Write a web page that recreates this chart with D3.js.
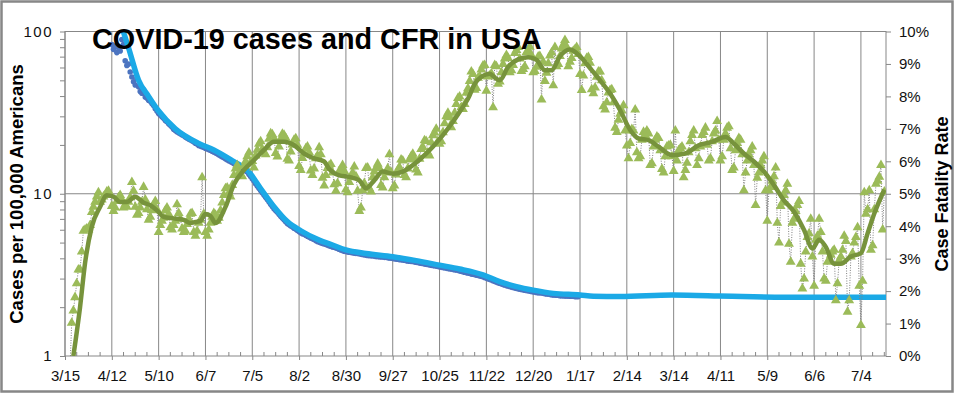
<!DOCTYPE html>
<html>
<head>
<meta charset="utf-8">
<script src="https://cdn.jsdelivr.net/npm/d3@7"></script>
<style>
  body { margin: 0; background: #fff; }
  svg { font-family: "Liberation Sans", Arial, sans-serif; }
</style>
</head>
<body>
<script>
// first day of the daily series (a Sunday)
const firstDay = "2020-03-15";

// x-axis tick dates (every 4 weeks)
const xTickDates = ["2020-03-15", "2020-04-12", "2020-05-10", "2020-06-07", "2020-07-05",
  "2020-08-02", "2020-08-30", "2020-09-27", "2020-10-25", "2020-11-22", "2020-12-20",
  "2021-01-17", "2021-02-14", "2021-03-14", "2021-04-11", "2021-05-09", "2021-06-06",
  "2021-07-04"];

// daily new cases per 100,000 (one row per week, Sun..Sat)
const casesDaily = [
  0.3, 0.4, 0.6, 0.85, 1.6, 1.9, 2.3,
  2.8, 3.4, 3.4, 4.4, 5.9, 6.0, 6.1,
  6.0, 6.4, 7.7, 8.3, 8.9, 9.6, 10.2,
  8.9, 9.2, 9.6, 9.8, 10.3, 10.4, 9.8,
  8.4, 7.8, 8.2, 9.0, 9.5, 9.8, 9.2,
  8.2, 8.6, 8.3, 8.9, 9.5, 11.8, 10.4,
  8.3, 7.4, 7.6, 8.2, 8.9, 11.0, 9.2,
  8.0, 6.9, 7.2, 7.9, 8.6, 9.0, 8.0,
  5.8, 6.4, 6.8, 7.1, 7.9, 8.2, 7.5,
  6.2, 6.0, 6.4, 6.8, 8.6, 7.6, 7.0,
  6.1, 5.8, 5.9, 6.5, 7.0, 7.5, 7.6,
  5.8, 5.5, 5.9, 6.6, 6.9, 12.6, 7.5,
  5.8, 5.5, 6.0, 6.6, 7.2, 7.6, 7.4,
  6.8, 7.1, 7.9, 8.8, 9.8, 10.8, 10.9,
  10.1, 9.6, 11.3, 13.0, 14.3, 15.0, 13.5,
  13.2, 12.8, 14.8, 15.8, 17.0, 17.9, 15.6,
  15.9, 14.5, 17.2, 18.6, 20.3, 21.0, 18.8,
  18.0, 17.5, 19.3, 21.8, 23.5, 23.2, 22.0,
  17.8, 16.9, 19.5, 21.8, 23.4, 23.0, 22.1,
  16.4, 16.0, 18.2, 20.1, 21.5, 21.9, 20.0,
  14.8, 14.0, 16.6, 17.8, 19.0, 19.5, 18.0,
  13.9, 13.0, 14.3, 16.5, 17.2, 19.3, 17.5,
  12.5, 11.2, 13.0, 14.4, 14.9, 15.2, 13.5,
  11.4, 10.4, 11.6, 13.8, 13.9, 15.0, 13.8,
  10.6, 10.2, 11.8, 12.6, 13.5, 14.7, 12.8,
  10.4, 7.8, 8.2, 10.5, 11.6, 14.4, 14.5,
  10.8, 10.3, 12.6, 13.7, 14.4, 15.3, 14.4,
  11.3, 10.9, 12.6, 13.5, 14.3, 17.5, 13.6,
  10.8, 11.2, 13.1, 14.0, 14.6, 16.2, 16.0,
  13.0, 12.6, 14.3, 16.2, 17.0, 17.6, 16.4,
  14.1, 13.5, 16.4, 18.8, 19.4, 21.3, 21.1,
  17.9, 17.2, 20.7, 22.9, 23.8, 25.1, 21.0,
  20.3, 21.0, 23.9, 27.1, 30.0, 31.5, 29.6,
  25.6, 28.0, 31.5, 35.7, 38.8, 39.6, 34.1,
  33.2, 35.6, 41.8, 44.6, 49.5, 56.5, 54.5,
  43.6, 44.8, 51.8, 53.1, 58.2, 61.5, 62.0,
  43.1, 52.7, 53.4, 55.2, 34.0, 62.1, 61.0,
  47.5, 49.0, 56.0, 63.0, 68.0, 71.5, 68.5,
  56.0, 57.5, 62.0, 73.5, 76.8, 80.0, 68.0,
  57.0, 58.5, 61.0, 74.5, 76.8, 80.5, 71.2,
  56.0, 57.0, 60.5, 70.0, 70.5, 38.0, 65.0,
  49.5, 55.5, 63.5, 71.0, 74.0, 46.5, 80.0,
  61.0, 63.0, 70.5, 78.5, 83.0, 88.5, 80.5,
  61.0, 65.0, 68.5, 76.0, 77.5, 80.0, 72.5,
  54.5, 43.5, 53.5, 63.5, 68.5, 69.5, 64.0,
  44.0, 41.5, 45.0, 52.5, 56.5, 56.5, 50.0,
  34.5, 33.0, 36.5, 42.0, 43.5, 44.0, 36.5,
  25.5, 24.0, 28.5, 31.0, 32.5, 35.0, 24.5,
  19.8, 16.5, 20.5, 25.0, 24.5, 33.0, 18.0,
  16.5, 17.0, 21.5, 24.0, 23.0, 24.5, 23.5,
  15.0, 15.4, 19.5, 21.5, 22.5, 22.0, 18.5,
  14.2, 13.5, 17.0, 19.5, 19.8, 20.0, 17.0,
  13.8, 24.5, 16.0, 18.5, 19.0, 19.5, 12.6,
  14.0, 15.5, 18.0, 21.0, 23.0, 24.5, 19.0,
  15.0, 16.5, 19.5, 23.0, 24.0, 25.5, 20.0,
  16.0, 16.5, 21.0, 23.5, 24.5, 28.0, 21.5,
  16.0, 17.0, 21.5, 23.5, 25.5, 26.0, 19.0,
  14.0, 14.5, 18.5, 20.5, 22.0, 21.5, 17.5,
  10.5, 13.5, 16.0, 17.5, 18.5, 19.5, 15.0,
  8.5, 12.5, 13.5, 15.0, 16.0, 17.0, 10.5,
  6.8, 10.5, 11.0, 12.0, 12.8, 14.5, 6.6,
  5.0, 8.4, 8.8, 9.8, 10.5, 11.5, 4.9,
  3.8, 6.6, 7.0, 7.8, 8.5, 9.0, 3.7,
  2.6, 3.0, 4.4, 5.4, 5.7, 7.0, 4.1,
  2.7, 5.2, 5.5, 7.0, 5.8, 4.4, 3.0,
  2.9, 3.8, 3.9, 4.2, 4.4, 4.5, 2.2,
  2.8, 3.9, 4.1, 4.5, 5.5, 5.1, 1.87,
  2.2, 4.1, 4.3, 5.0, 5.4, 6.2, 2.7,
  1.55, 2.9, 10.2, 7.5, 8.0, 10.5, 4.5,
  4.8, 8.0, 11.5, 12.0, 12.7, 15.0, 6.0,
  10.3
];

// 7-day average of cases (day index from firstDay, value per 100,000)
const avgDay = [5, 9, 12, 16, 21, 25, 29, 33, 37, 42, 47, 51, 55, 59, 65, 71, 75, 78, 81, 84,
  87, 90, 96, 101, 107, 113, 119, 125, 131, 137, 143, 149, 155, 158, 161, 164, 170, 176, 180,
  185, 190, 196, 202, 208, 214, 220, 226, 232, 238, 241, 245, 249, 254, 257, 260, 265, 271,
  277, 282, 287, 291, 296, 302, 308, 315, 320, 326, 332, 338, 343, 349, 355, 363, 371, 379,
  387, 395, 400, 406, 412, 418, 424, 430, 436, 442, 447, 451, 455, 460, 464, 470, 476, 480,
  484, 490];
const avgCases = [1.0, 2.0, 3.74, 6.25, 8.3, 9.8, 9.6, 8.9, 8.9, 9.6, 8.8, 8.5, 7.9, 7.2, 7.05,
  6.9, 6.6, 6.7, 6.8, 7.5, 7.3, 6.6, 8.3, 11.4, 14.0, 16.1, 18.6, 20.9, 20.9, 19.9, 17.7, 16.5,
  15.8, 14.2, 13.4, 13.0, 12.7, 12.1, 10.8, 12.1, 13.7, 13.3, 13.7, 15.0, 16.9, 19.5, 23.0,
  27.8, 34.4, 38.5, 47.5, 52.6, 55.0, 52.0, 50.0, 60.5, 67.3, 69.5, 66.9, 57.8, 57.8, 70.3,
  77.4, 70.3, 57.8, 50.0, 41.5, 32.7, 24.7, 21.9, 21.4, 19.5, 17.3, 17.7, 19.9, 20.9, 22.4,
  20.4, 17.7, 15.8, 13.7, 11.3, 9.1, 7.74, 5.97, 4.6, 5.2, 4.7, 3.7, 3.7, 4.1, 4.3, 5.7,
  7.55, 10.6];

// daily case fatality rate, starting at day 28 (4/12/2020)
const cfrFirst = 28;
const cfrDaily = [
  0.096, 0.0945, 0.0955, 0.0935, 0.095, 0.094, 0.0975,
  0.096, 0.091, 0.0895, 0.090, 0.0875, 0.086, 0.0845,
  0.0835, 0.0855, 0.083, 0.0815, 0.081, 0.082, 0.0798,
  0.0795, 0.0788, 0.0785, 0.0778, 0.0772, 0.0762, 0.0755,
  0.0747, 0.0743, 0.0737, 0.0733, 0.0726, 0.0722, 0.0716,
  0.0711, 0.0706, 0.0699, 0.0695, 0.0691, 0.0688, 0.0685,
  0.0682, 0.0679, 0.0675, 0.0672, 0.0669, 0.0666, 0.0663,
  0.0660, 0.0656, 0.0653, 0.0649, 0.0647, 0.0645, 0.0643,
  0.0640, 0.0638, 0.0636, 0.0634, 0.0631, 0.0629, 0.0626,
  0.0623, 0.0620, 0.0617, 0.0614, 0.0611, 0.0608, 0.0605,
  0.0602, 0.0599, 0.0596, 0.0593, 0.0590, 0.0587, 0.0584,
  0.0580, 0.0577, 0.0574, 0.0571, 0.0567, 0.0560, 0.0553,
  0.0546, 0.0539, 0.0531, 0.0524, 0.0517, 0.0510, 0.0503,
  0.0496, 0.0489, 0.0482, 0.0475, 0.0468, 0.0461, 0.0454,
  0.0448, 0.0443, 0.0437, 0.0431, 0.0425, 0.0420, 0.0414,
  0.0408, 0.0405, 0.0401, 0.0398, 0.0394, 0.0391, 0.0387,
  0.0384, 0.0380, 0.0377, 0.0375, 0.0372, 0.0369, 0.0367,
  0.0364, 0.0361, 0.0359, 0.0356, 0.0353, 0.0351, 0.0349,
  0.0347, 0.0345, 0.0344, 0.0342, 0.0340, 0.0338, 0.0336,
  0.0335, 0.0333, 0.0331, 0.0329, 0.0327, 0.0325, 0.0323,
  0.0322, 0.0321, 0.0320, 0.0319, 0.0318, 0.0317, 0.0316,
  0.0316, 0.0315, 0.0314, 0.0313, 0.0312, 0.0311, 0.0310,
  0.0310, 0.0309, 0.0309, 0.0308, 0.0307, 0.0307, 0.0306,
  0.0305, 0.0305, 0.0304, 0.0304, 0.0303, 0.0302, 0.0302,
  0.0301, 0.0300, 0.0299, 0.0298, 0.0297, 0.0297, 0.0296,
  0.0295, 0.0294, 0.0293, 0.0292, 0.0291, 0.0291, 0.0290,
  0.0289, 0.0288, 0.0287, 0.0286, 0.0285, 0.0284, 0.0283,
  0.0282, 0.0281, 0.0280, 0.0279, 0.0278, 0.0277, 0.0276,
  0.0275, 0.0274, 0.0273, 0.0272, 0.0271, 0.0270, 0.0269,
  0.0268, 0.0267, 0.0266, 0.0265, 0.0264, 0.0262, 0.0261,
  0.0260, 0.0258, 0.0257, 0.0256, 0.0255, 0.0253, 0.0252,
  0.0251, 0.0249, 0.0248, 0.0247, 0.0246, 0.0244, 0.0242,
  0.0240, 0.0238, 0.0236, 0.0234, 0.0232, 0.0230, 0.0228,
  0.0226, 0.0224, 0.0222, 0.0220, 0.0219, 0.0217, 0.0216,
  0.0214, 0.0213, 0.0211, 0.0210, 0.0208, 0.0207, 0.0206,
  0.0205, 0.0204, 0.0203, 0.0202, 0.0201, 0.0200, 0.0199,
  0.0198, 0.0197, 0.0196, 0.0195, 0.0195, 0.0194, 0.0193,
  0.0192, 0.0191, 0.0191, 0.0190, 0.0189, 0.0188, 0.0188,
  0.0187, 0.0187, 0.0186, 0.0186, 0.0186, 0.0185, 0.0185,
  0.0185, 0.0184, 0.0184, 0.0184, 0.0183, 0.0183, 0.0183
];

// smoothed case fatality rate
const cfrLineDay = [33, 38, 44, 50, 56, 66, 80, 89, 101, 109, 117, 125, 133, 141, 152, 160, 168,
  180, 196, 210, 224, 236, 250, 260, 270, 280, 292, 308, 316, 332, 363, 391, 405, 431, 491];
const cfrLine = [0.103, 0.095, 0.085, 0.080, 0.0755, 0.070, 0.0655, 0.0635, 0.0599, 0.0573,
  0.0516, 0.046, 0.0414, 0.0386, 0.0357, 0.0342, 0.0327, 0.0316, 0.0306, 0.0294, 0.028,
  0.0268, 0.025, 0.0229, 0.0214, 0.0203, 0.0193, 0.0188, 0.0184, 0.0183, 0.0188, 0.0185,
  0.0183, 0.0181, 0.0181];

const width = 955, height = 394;
const plot = { left: 65, top: 31.5, right: 886, bottom: 356 };
const gridColor = "#878787";

const parseDate = d3.timeParse("%Y-%m-%d");
const day0 = parseDate(firstDay);
const dateOf = i => d3.timeDay.offset(day0, i);

const x = d3.scaleTime().domain([day0, dateOf(491)]).range([plot.left, plot.right]);
const yL = d3.scaleLog().domain([1, 100]).range([plot.bottom, plot.top]);
const yR = d3.scaleLinear().domain([0, 0.1]).range([plot.bottom, plot.top]);

const svg = d3.select("body").append("svg")
  .attr("width", width)
  .attr("height", height);

svg.append("rect")
  .attr("x", 1.5).attr("y", 1.5)
  .attr("width", width - 4).attr("height", height - 4)
  .attr("fill", "#fff")
  .attr("stroke", gridColor)
  .attr("stroke-width", 2.5);

svg.append("defs").append("clipPath").attr("id", "clip")
  .append("rect")
  .attr("x", plot.left).attr("y", plot.top)
  .attr("width", plot.right - plot.left).attr("height", plot.bottom - plot.top);

// vertical gridlines
const tickDates = xTickDates.map(parseDate);
svg.append("g").selectAll("line")
  .data(tickDates)
  .join("line")
  .attr("x1", d => x(d)).attr("x2", d => x(d))
  .attr("y1", plot.top).attr("y2", plot.bottom)
  .attr("stroke", gridColor);

// horizontal gridline at 10
svg.append("line")
  .attr("x1", plot.left).attr("x2", plot.right)
  .attr("y1", yL(10)).attr("y2", yL(10))
  .attr("stroke", gridColor);

// weekly minor ticks on the x axis
svg.append("g").selectAll("line")
  .data(d3.range(7, 491, 7).filter(i => i % 28 !== 0))
  .join("line")
  .attr("x1", i => x(dateOf(i))).attr("x2", i => x(dateOf(i)))
  .attr("y1", plot.bottom - 4).attr("y2", plot.bottom)
  .attr("stroke", gridColor);

// plot border
svg.append("rect")
  .attr("x", plot.left).attr("y", plot.top)
  .attr("width", plot.right - plot.left).attr("height", plot.bottom - plot.top)
  .attr("fill", "none")
  .attr("stroke", gridColor);

// axes
const fmtDate = d3.timeFormat("%-m/%-d");
const xAxis = svg.append("g")
  .attr("transform", `translate(0,${plot.bottom})`)
  .call(d3.axisBottom(x).tickValues(tickDates).tickFormat(fmtDate).tickSize(4).tickPadding(10));

const logTicks = [];
[1, 10].forEach(b => d3.range(1, 10).forEach(m => logTicks.push(b * m)));
logTicks.push(100);
const leftAxis = svg.append("g")
  .attr("transform", `translate(${plot.left},0)`)
  .call(d3.axisLeft(yL).tickValues(logTicks)
    .tickFormat(d => [1, 10, 100].includes(d) ? d : "")
    .tickSize(5).tickPadding(7));

const rightAxis = svg.append("g")
  .attr("transform", `translate(${plot.right},0)`)
  .call(d3.axisRight(yR).ticks(10).tickFormat(d3.format(".0%")).tickSize(5).tickPadding(8));

[xAxis, leftAxis, rightAxis].forEach(g => {
  g.select(".domain").remove();
  g.selectAll(".tick line").attr("stroke", gridColor);
  g.selectAll(".tick text").attr("font-size", 15).attr("fill", "#111")
    .attr("font-family", "Liberation Sans, Arial, sans-serif");
});
leftAxis.selectAll(".tick text").attr("letter-spacing", 1.5);

// series
const layer = svg.append("g").attr("clip-path", "url(#clip)");

layer.append("g").selectAll("circle")
  .data(cfrDaily)
  .join("circle")
  .attr("cx", (d, i) => x(dateOf(cfrFirst + i)))
  .attr("cy", d => yR(d))
  .attr("r", 2.8)
  .attr("fill", "#4c74c0");

layer.append("path")
  .datum(cfrLine)
  .attr("fill", "none")
  .attr("stroke", "#1ba9e6")
  .attr("stroke-width", 5.5)
  .attr("d", d3.line()
    .x((d, i) => x(dateOf(cfrLineDay[i])))
    .y(d => yR(d))
    .curve(d3.curveMonotoneX));

layer.append("path")
  .datum(casesDaily)
  .attr("fill", "none")
  .attr("stroke", "#808080")
  .attr("stroke-width", 1)
  .attr("stroke-dasharray", "1,1.5")
  .attr("d", d3.line().x((d, i) => x(dateOf(i))).y(d => yL(d)));

layer.append("g").selectAll("path")
  .data(casesDaily)
  .join("path")
  .attr("transform", (d, i) => `translate(${x(dateOf(i))},${yL(d)})`)
  .attr("d", d3.symbol().type(d3.symbolTriangle).size(42))
  .attr("fill", "#9bbb59");

layer.append("path")
  .datum(avgCases)
  .attr("fill", "none")
  .attr("stroke", "#77933c")
  .attr("stroke-width", 4.5)
  .attr("stroke-linejoin", "round")
  .attr("d", d3.line()
    .x((d, i) => x(dateOf(avgDay[i])))
    .y(d => yL(d))
    .curve(d3.curveMonotoneX));

// titles
const title = svg.append("text")
  .attr("x", 92).attr("y", 49)
  .attr("font-size", 24)
  .attr("font-weight", "bold")
  .attr("fill", "#000")
  .text("COVID-19 cases and CFR in USA");
const tl = title.node().getComputedTextLength();
title.attr("font-size", 24 * 450 / tl);

svg.append("text")
  .attr("transform", `translate(23,194) rotate(-90)`)
  .attr("text-anchor", "middle")
  .attr("font-size", 18.5)
  .attr("font-weight", "bold")
  .text("Cases per 100,000 Americans");

svg.append("text")
  .attr("transform", `translate(948,194) rotate(-90)`)
  .attr("text-anchor", "middle")
  .attr("font-size", 18)
  .attr("font-weight", "bold")
  .text("Case Fatality Rate");
</script>
</body>
</html>
